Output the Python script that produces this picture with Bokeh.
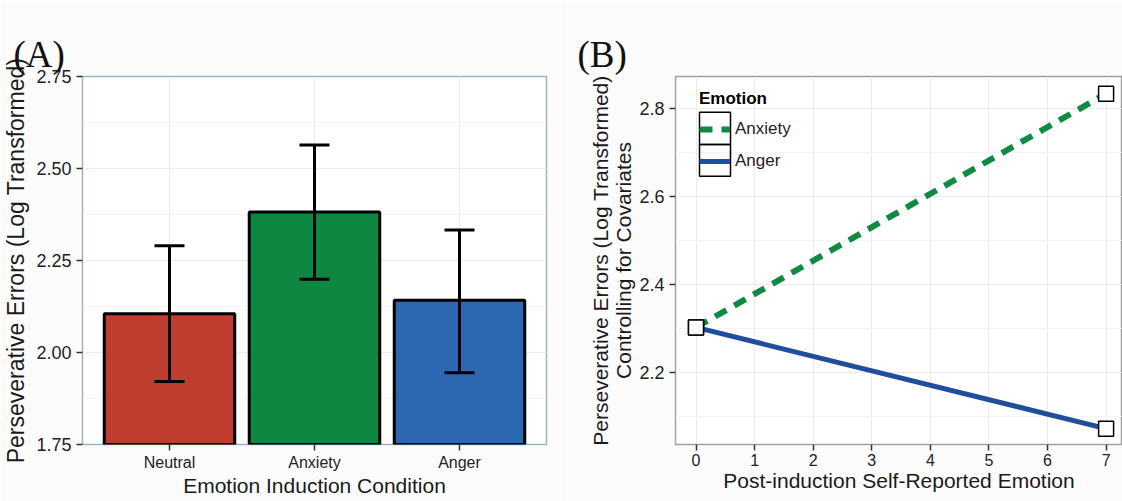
from bokeh.plotting import figure
from bokeh.models import (FactorRange, Range1d, Whisker, ColumnDataSource, Legend, LinearAxis, Title,
                          LegendItem, BoxAnnotation, FixedTicker, NumeralTickFormatter, TeeHead)
from bokeh.layouts import row
from bokeh.embed import file_html
from bokeh.resources import INLINE

# ---- data: panel A ----
conditions = ["Neutral", "Anxiety", "Anger"]
means = [2.105, 2.382, 2.142]
upper = [2.290, 2.564, 2.333]
lower = [1.921, 2.199, 1.945]
bar_colors = ["#BE3D2F", "#0E8742", "#2C68B2"]
y_ticks_a = [1.75, 2.00, 2.25, 2.50, 2.75]

# ---- data: panel B ----
emotion_x = [0, 7]
anxiety_y = [2.303, 2.834]
anger_y = [2.303, 2.073]
x_ticks_b = [0, 1, 2, 3, 4, 5, 6, 7]
y_ticks_b = [2.2, 2.4, 2.6, 2.8]

FONT = "Liberation Sans"
BG = "#FCFCFD"


def style(p, outline, panel_title, title_offset, xlabel, ylabel):
    p.background_fill_color = "#FFFFFF"
    p.border_fill_color = BG
    p.outline_line_color = outline
    p.outline_line_width = 1.5
    xa = p.below[0]
    ya = p.left[0]
    for ax in [xa, ya]:
        ax.axis_line_color = None
        ax.major_tick_line_color = "#333333"
        ax.major_tick_line_width = 1.5
        ax.major_tick_out = 6
        ax.major_tick_in = 0
        ax.minor_tick_line_color = None
        ax.major_label_text_font = FONT
        ax.major_label_text_color = "#222222"
        ax.axis_label_text_font = FONT
        ax.axis_label_text_font_size = "21px"
        ax.axis_label_text_font_style = "normal"
        ax.axis_label_text_color = "#1a1a1a"
    xa.axis_label = xlabel
    ya.axis_label = ylabel
    xa.major_label_text_font_size = "16px"
    ya.major_label_text_font_size = "18px"
    xa.major_label_text_line_height = 1.0
    xa.axis_label_text_line_height = 1.0
    xa.major_label_standoff = 3
    xa.axis_label_standoff = 0
    ya.major_label_standoff = 5
    ya.axis_label_standoff = 4
    p.xgrid.grid_line_color = "#EBEBEB"
    p.ygrid.grid_line_color = "#EBEBEB"
    p.ygrid.minor_grid_line_color = "#F4F4F4"
    # default title unused (kept empty and tiny)
    p.title.text = ""
    p.title.text_font_size = "1px"
    p.title.standoff = 0
    # an empty spacer axis next to the frame lifts the panel letter upwards
    spacer = LinearAxis(ticker=FixedTicker(ticks=[]), axis_line_color=None,
                        major_tick_line_color=None, minor_tick_line_color=None,
                        major_tick_out=28, major_tick_in=0, minor_tick_out=0,
                        major_label_standoff=0)
    p.add_layout(spacer, "above")
    p.add_layout(Title(text=panel_title, text_font="Liberation Serif", text_font_size="37px",
                       text_font_style="normal", text_color="#111111", align="left",
                       offset=title_offset, standoff=4), "above")
    return xa, ya


# ---------------- Panel A ----------------
pa = figure(width=560, height=501,
            x_range=FactorRange(*conditions, range_padding=0.2 / 3),
            y_range=Range1d(1.75, 2.75),
            output_backend="svg", toolbar_location=None,
            min_border_left=81, min_border_right=14, min_border_top=76, min_border_bottom=56)
xa_a, ya_a = style(pa, "#9DB2BF", "(A)", -69,
                   "Emotion Induction Condition", "Perseverative Errors (Log Transformed)")
ya_a.axis_label_text_font_size = "23px"

src = ColumnDataSource(dict(cond=conditions, mean=means, upper=upper, lower=lower, color=bar_colors))
pa.vbar(x="cond", top="mean", bottom=0, width=0.9, source=src,
        fill_color="color", line_color="black", line_width=3)
w = Whisker(base="cond", upper="upper", lower="lower", source=src,
            line_color="black", line_width=3, level="annotation",
            upper_head=TeeHead(size=30, line_width=3, line_color="black"),
            lower_head=TeeHead(size=30, line_width=3, line_color="black"))
pa.add_layout(w)

minor_a = [(a + b) / 2 for a, b in zip(y_ticks_a[:-1], y_ticks_a[1:])]
ya_a.ticker = FixedTicker(ticks=y_ticks_a, minor_ticks=minor_a)
ya_a.formatter = NumeralTickFormatter(format="0.00")

# ---------------- Panel B ----------------
pb = figure(width=562, height=501,
            x_range=Range1d(-0.35, 7.28), y_range=Range1d(2.037, 2.873),
            output_backend="svg", toolbar_location=None,
            min_border_left=115, min_border_right=0, min_border_top=76, min_border_bottom=57)
xa_b, ya_b = style(pb, "#A0A0A0", "(B)", -98,
                   "Post-induction Self-Reported Emotion",
                   "Perseverative Errors (Log Transformed)\nControlling for Covariates")

r_anx = pb.line(emotion_x, anxiety_y, line_color="#0E8A43", line_width=6, line_dash="13 9")
r_ang = pb.line(emotion_x, anger_y, line_color="#1F4F9C", line_width=5)
pb.scatter(emotion_x, anxiety_y, marker="square", size=15, fill_color="white",
           line_color="black", line_width=1.5)
pb.scatter(emotion_x, anger_y, marker="square", size=15, fill_color="white",
           line_color="black", line_width=1.5)

minor_b = [(a + b) / 2 for a, b in zip(y_ticks_b[:-1], y_ticks_b[1:])] + [y_ticks_b[0] - 0.1]
ya_b.ticker = FixedTicker(ticks=y_ticks_b, minor_ticks=minor_b)
xa_b.ticker = FixedTicker(ticks=x_ticks_b)
ya_b.formatter = NumeralTickFormatter(format="0.0")
ya_b.axis_label_text_line_height = 1.0
ya_b.axis_label_standoff = 1

legend = Legend(items=[LegendItem(label="Anxiety", renderers=[r_anx]),
                       LegendItem(label="Anger", renderers=[r_ang])],
                title="Emotion", location=(24, 267),
                title_text_font=FONT, title_text_font_style="bold", title_text_font_size="17px",
                title_text_color="#000000",
                label_text_font=FONT, label_text_font_size="17px", label_text_color="#222222",
                glyph_width=31, glyph_height=32, label_height=32, label_standoff=5,
                spacing=0, padding=0, margin=0, title_standoff=4,
                border_line_color=None, background_fill_alpha=0)
pb.add_layout(legend)
for top, bottom in [(111.7, 144), (144, 175.7)]:
    pb.add_layout(BoxAnnotation(left=139, right=170, top=top, bottom=bottom,
                                left_units="canvas", right_units="canvas",
                                top_units="canvas", bottom_units="canvas",
                                fill_alpha=0, line_color="black", line_alpha=1.0,
                                line_width=1.5))

layout = row(pa, pb)
open("out.html", "w").write(file_html(layout, INLINE))
